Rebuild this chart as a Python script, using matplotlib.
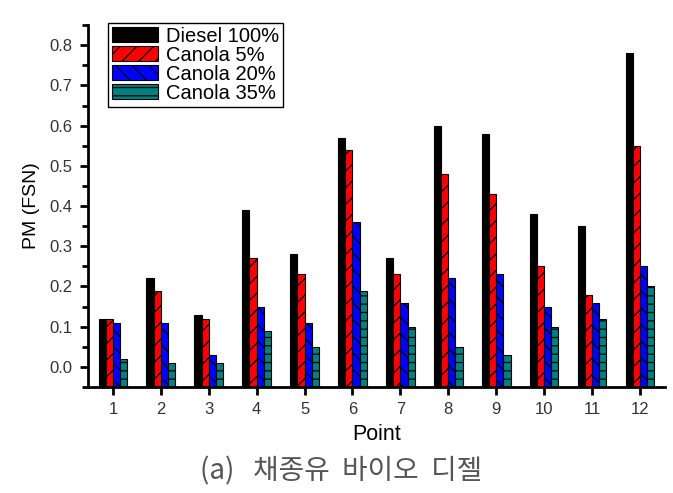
import matplotlib
matplotlib.use("Agg")
import matplotlib.pyplot as plt
import numpy as np
from matplotlib.ticker import MultipleLocator

plt.rcParams['font.family'] = ['Liberation Sans', 'DejaVu Sans']
plt.rcParams['hatch.linewidth'] = 0.9

points = [1, 2, 3, 4, 5, 6, 7, 8, 9, 10, 11, 12]
diesel100 = [0.12, 0.22, 0.13, 0.39, 0.28, 0.57, 0.27, 0.60, 0.58, 0.38, 0.35, 0.78]
canola5 = [0.12, 0.19, 0.12, 0.27, 0.23, 0.54, 0.23, 0.48, 0.43, 0.25, 0.18, 0.55]
canola20 = [0.11, 0.11, 0.03, 0.15, 0.11, 0.36, 0.16, 0.22, 0.23, 0.15, 0.16, 0.25]
canola35 = [0.02, 0.01, 0.01, 0.09, 0.05, 0.19, 0.10, 0.05, 0.03, 0.10, 0.12, 0.20]
series_names = ["Diesel 100%", "Canola 5%", "Canola 20%", "Canola 35%"]

fig = plt.figure(figsize=(6.73, 4.93), dpi=100)
ax = fig.add_axes([0.1308, 0.215, 0.857, 0.734])

ymin, ymax = -0.05, 0.85
x = np.array(points, dtype=float)
w = 0.15
styles = [
    dict(color="#000000", hatch=None),
    dict(color="#FF0000", hatch="//"),
    dict(color="#0000FF", hatch="\\\\"),
    dict(color="#008080", hatch="--"),
]
data = [diesel100, canola5, canola20, canola35]
for i, (vals, st, name) in enumerate(zip(data, styles, series_names)):
    v = np.array(vals)
    ax.bar(x + (i - 1.5) * w, v - ymin, bottom=ymin, width=w,
           facecolor=st["color"], edgecolor="black", linewidth=0.8,
           hatch=st["hatch"], label=name)

ax.set_xlim(0.48, 12.52)
ax.set_ylim(ymin, ymax)
ax.set_xticks(points)
ax.set_yticks(np.arange(0, 0.81, 0.1))
ax.yaxis.set_minor_locator(MultipleLocator(0.05))
ax.set_yticklabels([f"{t:.1f}" for t in np.arange(0, 0.81, 0.1)])

for s in ["top", "right"]:
    ax.spines[s].set_visible(False)
for s in ["left", "bottom"]:
    ax.spines[s].set_linewidth(2)

ax.tick_params(axis="both", which="major", direction="out", length=6, width=2,
               labelsize=12, labelcolor="#333333", pad=5)
ax.tick_params(axis="y", which="minor", direction="out", length=4, width=2)

ax.set_xlabel("Point", fontsize=15.5, labelpad=5)
ax.set_ylabel("PM (FSN)", fontsize=14, labelpad=7)

leg = ax.legend(loc="upper left", bbox_to_anchor=(0.034, 1.007), fontsize=14.5,
                frameon=True, fancybox=False, edgecolor="black", framealpha=1,
                handlelength=2.3, handleheight=0.75, handletextpad=0.4,
                borderpad=0.2, labelspacing=0.0, borderaxespad=0)
leg.get_frame().set_linewidth(1.0)

fig.text(0.507, 0.044, "(a)   채종유  바이오  디젤", ha="center", va="center",
         fontsize=20, color="#555555",
         family=["Noto Sans CJK KR", "DejaVu Sans"])

fig.savefig("out.png", dpi=100)
